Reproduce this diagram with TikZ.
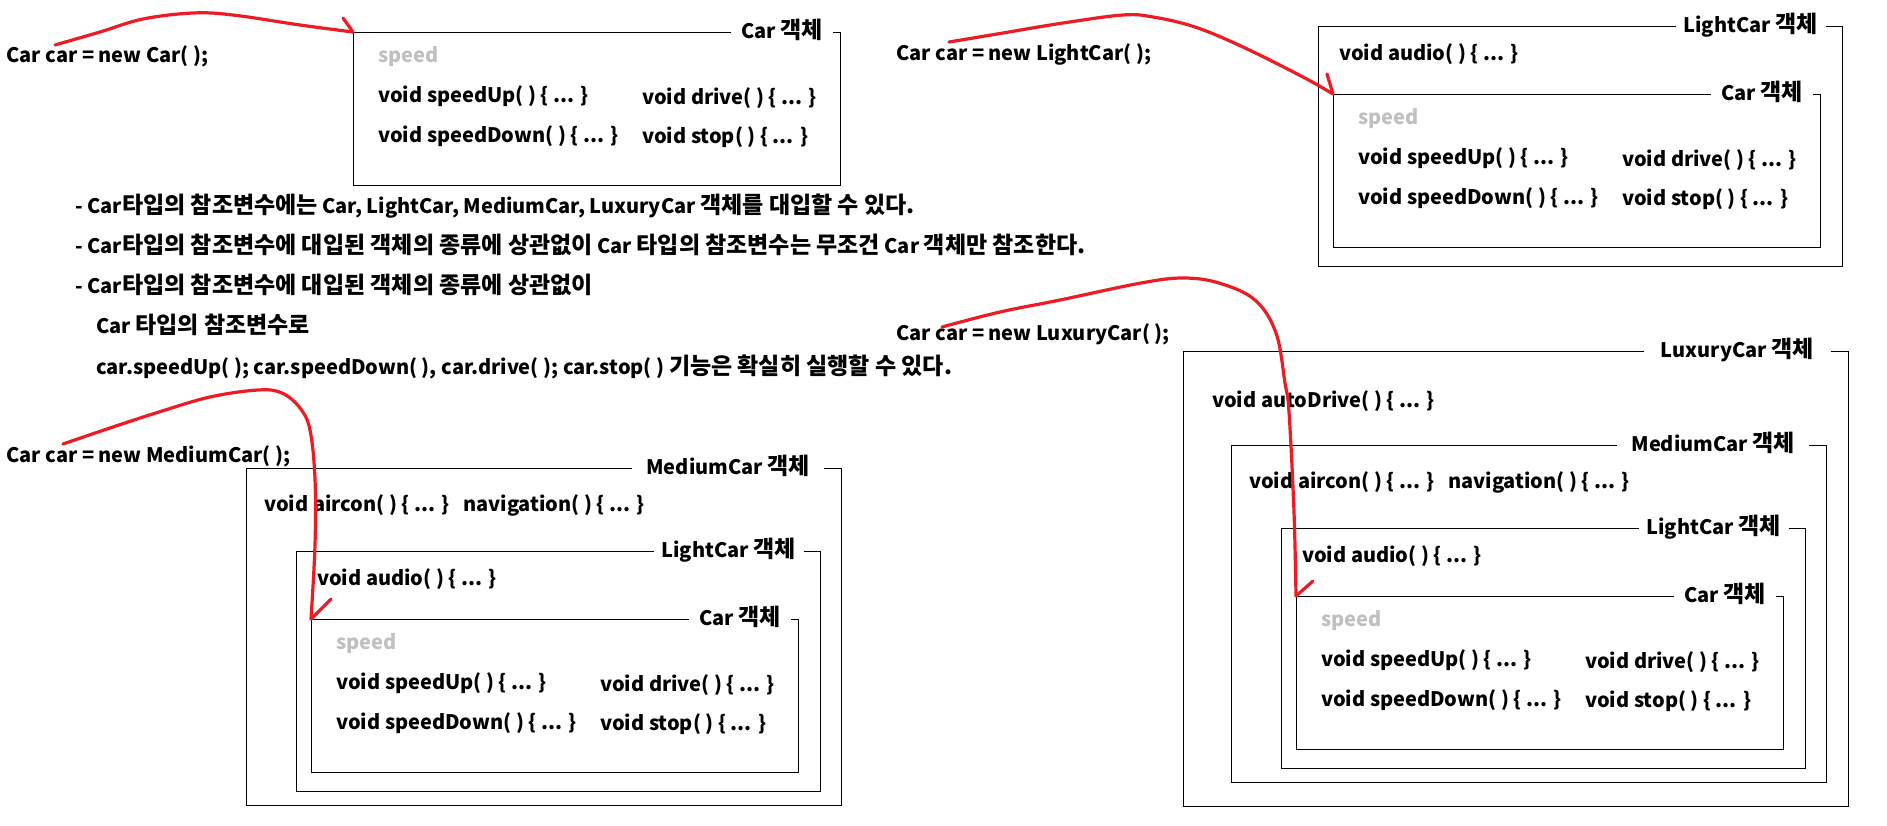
\documentclass[tikz,border=0pt]{standalone}
\usepackage{fontspec}
\setmainfont{Noto Sans CJK KR}
\newfontfamily\krfont{Noto Sans CJK KR}[Scale=1.15]
\newcommand\kr[1]{{\krfont #1}}
\usetikzlibrary{calc}
\definecolor{pen}{RGB}{237,28,36}
\definecolor{spgray}{RGB}{192,192,192}
% generic object frame: name, x, y, w, h, label, right offset, label gap
\newcommand\objbox[8]{%
  \node[objframe, minimum width=#4pt, minimum height=#5pt, anchor=north west] (#1) at (#2,#3) {};
  \node[lbl, inner xsep=#8pt] (#1-lbl) at ([xshift=-#7pt,yshift=-6.5pt]#1.north east) {#6};}
% Car object: name, x, y
\newcommand\carobj[3]{%
  \objbox{#1}{#2}{#3}{487}{153}{Car \kr{객체}}{8}{10}
  \node[txt, text=spgray] (#1-sp) at ([shift={(25pt,-30pt)}]#1.north west) {speed};
  \node[txt] (#1-up) at ([shift={(25pt,-70pt)}]#1.north west) {void speedUp( ) \{ ... \}};
  \node[txt] (#1-dn) at ([shift={(25pt,-110pt)}]#1.north west) {void speedDown( ) \{ ... \}};
  \node[txt] (#1-dr) at ([shift={(289pt,-72pt)}]#1.north west) {void drive( ) \{ ... \}};
  \node[txt] (#1-st) at ([shift={(289pt,-111pt)}]#1.north west) {void stop( ) \{ ... \}};}
% LightCar object (contains Car): name, x, y
\newcommand\lightobj[3]{%
  \objbox{#1}{#2}{#3}{524}{240}{LightCar \kr{객체}}{17}{8}
  \node[txt] (#1-au) at ([shift={(21pt,-34pt)}]#1.north west) {void audio( ) \{ ... \}};
  \carobj{#1-car}{#2+15}{#3+68}}
% MediumCar object (contains LightCar): name, x, y
\newcommand\mediumobj[3]{%
  \objbox{#1}{#2}{#3}{595}{337}{MediumCar \kr{객체}}{18}{14}
  \node[txt] (#1-ac) at ([shift={(18pt,-43pt)}]#1.north west) {void aircon( ) \{ ... \}};
  \node[txt] (#1-nv) at ([shift={(217pt,-43pt)}]#1.north west) {navigation( ) \{ ... \}};
  \lightobj{#1-lt}{#2+50}{#3+83}}
\begin{document}
\begin{tikzpicture}[x=1pt,y=-1pt,
  every node/.style={font=\bfseries\fontsize{20}{24}\selectfont},
  txt/.style={anchor=base west, inner sep=0pt},
  lbl/.style={anchor=base east, fill=white, inner ysep=2pt},
  objframe/.style={draw=black, line width=1.1pt, inner sep=0pt},
  redpen/.style={draw=pen, line width=3.2pt, line cap=round, line join=round}]
\useasboundingbox[fill=white] (0,0) rectangle (1887,825);

% ---------- statements ----------
\node[txt] (s1) at (6,62) {Car car = new Car( );};
\node[txt] (s2) at (896,60) {Car car = new LightCar( );};
\node[txt] (s3) at (6,462) {Car car = new MediumCar( );};
\node[txt] (s4) at (896,340) {Car car = new LuxuryCar( );};

% ---------- notes ----------
\node[txt] (n1) at (75,213) {- Car\kr{타입의 참조변수에는} Car, LightCar, MediumCar, LuxuryCar \kr{객체를 대입할 수 있다.}};
\node[txt] (n2) at (75,253) {- Car\kr{타입의 참조변수에 대입된 객체의 종류에 상관없이} Car \kr{타입의 참조변수는 무조건} Car \kr{객체만 참조한다.}};
\node[txt] (n3) at (75,293) {- Car\kr{타입의 참조변수에 대입된 객체의 종류에 상관없이}};
\node[txt] (n4) at (96,333) {Car \kr{타입의 참조변수로}};
\node[txt] (n5) at (96,374) {car.speedUp( ); car.speedDown( ), car.drive( ); car.stop( ) \kr{기능은 확실히 실행할 수 있다.}};

% ---------- objects ----------
\carobj{ca}{353}{32}
\lightobj{lt}{1318}{26}
\mediumobj{md}{246}{468}
\objbox{lx}{1183}{351}{665}{455}{LuxuryCar \kr{객체}}{18}{17}
\node[txt] (lx-ad) at ([shift={(29pt,-56pt)}]lx.north west) {void autoDrive( ) \{ ... \}};
\mediumobj{lx-md}{1231}{445}

% ---------- red references ----------
\coordinate (r1) at (55,45);
\coordinate (r2) at (949,42);
\coordinate (r3) at (63,444);
\coordinate (r4) at (942,327);
\draw[redpen] plot[smooth, tension=0.6] coordinates {(r1) (100,32) (143,19) (193,13) (233,15) (300,25) (ca.north west)};
\draw[redpen] (ca.north west) -- ++(-10pt,14pt);
\draw[redpen] plot[smooth, tension=0.6] coordinates {(r2) (1003,33) (1063,23) (1123,15) (1153,17) (1195,27) (1243,47) (1303,77) (lt-car.north west)};
\draw[redpen] (lt-car.north west) -- ++(-6pt,20pt);
\draw[redpen] plot[smooth, tension=0.6] coordinates {(r3) (110,428) (159,412) (210,397) (258,390) (282,393) (300,408) (310,430) (315,479) (315,545) (md-lt-car.north west)};
\draw[redpen] (md-lt-car.north west) -- ++(20pt,20pt);
\draw[redpen] plot[smooth, tension=0.6] coordinates {(r4) (1000,312) (1060,300) (1141,283) (1183,278) (1219,283) (1255,300) (1276,333) (1285,383) (1289,412) (1294,512) (lx-md-lt-car.north west)};
\draw[redpen] (lx-md-lt-car.north west) -- ++(17pt,15pt);
\end{tikzpicture}
\end{document}
